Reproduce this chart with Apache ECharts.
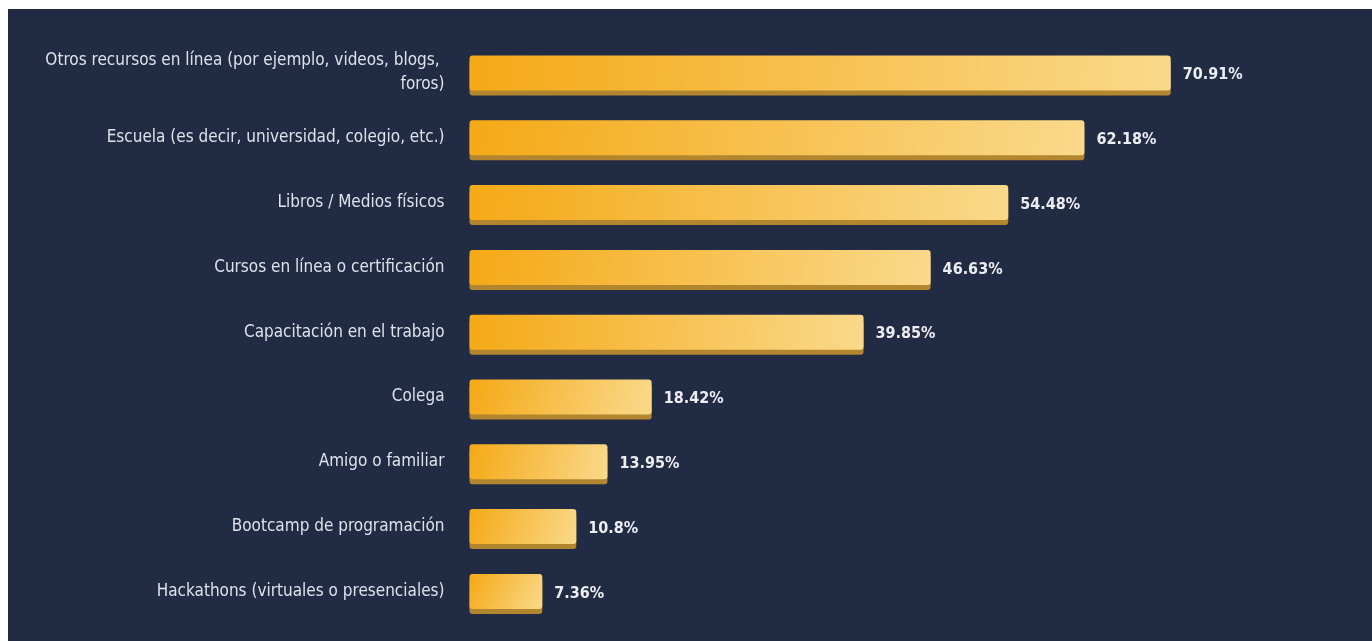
<!DOCTYPE html>
<html>
<head>
<meta charset="utf-8">
<script src="https://cdn.jsdelivr.net/npm/echarts@6/dist/echarts.min.js"></script>
<style>
  html, body { margin: 0; padding: 0; background: #ffffff; width: 1372px; height: 641px; overflow: hidden; }
  #chart { position: absolute; left: 8px; top: 9px; width: 1364px; height: 632px; }
</style>
</head>
<body>
<div id="chart"></div>
<script>
const categories = [
  'Otros recursos en línea (por ejemplo, videos, blogs, foros)',
  'Escuela (es decir, universidad, colegio, etc.)',
  'Libros / Medios físicos',
  'Cursos en línea o certificación',
  'Capacitación en el trabajo',
  'Colega',
  'Amigo o familiar',
  'Bootcamp de programación',
  'Hackathons (virtuales o presenciales)'
];
const values = [70.91, 62.18, 54.48, 46.63, 39.85, 18.42, 13.95, 10.8, 7.36];

const FONT = "'DejaVu Sans Condensed', 'Noto Sans', sans-serif";

const chart = echarts.init(document.getElementById('chart'));
chart.setOption({
  backgroundColor: '#212b44',
  animation: false,
  grid: { left: 461.5, right: 111.4, top: 31.6, bottom: 17.2, containLabel: false },
  xAxis: {
    type: 'value', min: 0, max: 80,
    show: false
  },
  yAxis: {
    type: 'category',
    data: categories,
    inverse: true,
    axisLine: { show: false },
    axisTick: { show: false },
    splitLine: { show: false },
    axisLabel: {
      margin: 25,
      color: '#dfe2ea',
      fontFamily: FONT,
      fontSize: 17,
      lineHeight: 24,
      width: 420,
      overflow: 'break',
      align: 'right'
    }
  },
  series: [{
    type: 'bar',
    data: values,
    barWidth: 35,
    itemStyle: {
      borderRadius: 3,
      color: new echarts.graphic.LinearGradient(0, 0, 1, 1, [
        { offset: 0, color: '#f5a916' },
        { offset: 1, color: '#fad98b' }
      ]),
      shadowColor: '#b2862f',
      shadowOffsetY: 5,
      shadowBlur: 0
    },
    label: {
      show: true,
      position: 'right',
      distance: 12,
      offset: [0, 2],
      formatter: p => p.value + '%',
      color: '#eceef3',
      fontFamily: FONT,
      fontWeight: 'bold',
      fontSize: 16
    }
  }]
});
</script>
</body>
</html>
